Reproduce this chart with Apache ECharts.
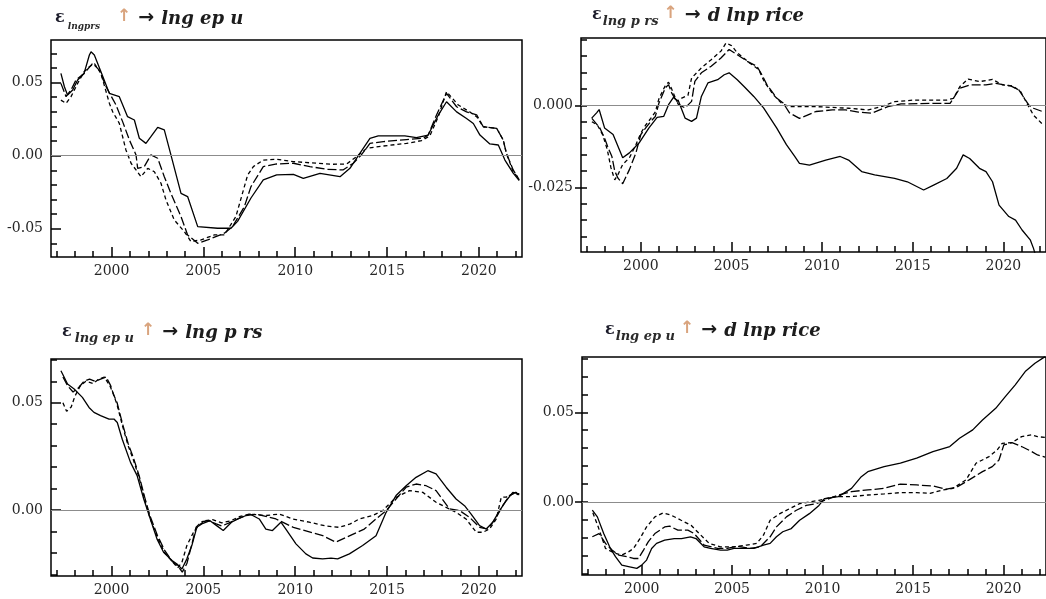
<!DOCTYPE html>
<html>
<head>
<meta charset="utf-8">
<script src="https://cdn.jsdelivr.net/npm/echarts@6/dist/echarts.min.js"></script>
<style>
html,body{margin:0;padding:0;background:#fff;}
#chart{width:1046px;height:599px;}
</style>
</head>
<body>
<div id="chart"></div>
<script>
// tick labels
var majorYears = [2000, 2005, 2010, 2015, 2020];
var minorYears = [1997, 1998, 1999, 2000, 2001, 2002, 2003, 2004, 2005, 2006, 2007, 2008, 2009, 2010, 2011, 2012, 2013, 2014, 2015, 2016, 2017, 2018, 2019, 2020, 2021, 2022];

// panel 1 : eps lngprs -> lngepu
var p1Solid = [[1997.24,0.0563],[1997.43,0.0472],[1997.6,0.0415],[1997.88,0.045],[1998.15,0.0518],[1998.5,0.0563],[1998.79,0.0689],[1998.88,0.0711],[1999.06,0.0689],[1999.42,0.0575],[1999.88,0.0426],[2000.42,0.0404],[2000.87,0.0267],[2001.24,0.0244],[2001.51,0.0119],[2001.87,0.0084],[2002.14,0.013],[2002.51,0.0194],[2002.87,0.0176],[2003.23,0.0005],[2003.78,-0.0258],[2004.14,-0.028],[2004.69,-0.0486],[2005.77,-0.0497],[2006.5,-0.0497],[2006.86,-0.045],[2007.59,-0.029],[2008.26,-0.0166],[2008.99,-0.0132],[2009.9,-0.0128],[2010.44,-0.0155],[2011.35,-0.0121],[2012.44,-0.0144],[2012.98,-0.0087],[2013.52,0.0016],[2014.07,0.0119],[2014.52,0.0135],[2015.97,0.0135],[2016.6,0.0123],[2017.24,0.0141],[2017.79,0.0278],[2018.24,0.0369],[2018.79,0.030],[2019.33,0.0255],[2019.7,0.022],[2020.06,0.0141],[2020.6,0.008],[2021.06,0.0073],[2021.42,-0.003],[2021.87,-0.012],[2022.2,-0.017]];
var p1Long = [[1997.24,0.0495],[1997.52,0.0404],[1997.79,0.045],[1998.06,0.0518],[1998.5,0.0563],[1998.97,0.0632],[1999.33,0.0586],[1999.7,0.0472],[2000.24,0.0347],[2000.6,0.0233],[2000.97,0.0107],[2001.33,0.0005],[2001.42,-0.0087],[2001.78,-0.0075],[2002.14,0.0005],[2002.51,-0.0018],[2002.87,-0.0144],[2003.23,-0.0258],[2003.78,-0.0417],[2004.14,-0.0543],[2004.69,-0.06],[2005.23,-0.0577],[2006.14,-0.0531],[2006.59,-0.0486],[2007.23,-0.0349],[2007.59,-0.0212],[2008.26,-0.0075],[2008.99,-0.0057],[2009.9,-0.0052],[2010.8,-0.0075],[2011.7,-0.0093],[2012.6,-0.0098],[2013.16,-0.0052],[2013.6,0.0005],[2014.07,0.0084],[2014.8,0.0096],[2016.06,0.011],[2016.97,0.0119],[2017.24,0.0141],[2017.7,0.028],[2018.24,0.0426],[2018.79,0.0335],[2019.33,0.030],[2019.88,0.028],[2020.24,0.0198],[2020.97,0.0187],[2021.33,0.0107],[2021.5,0.0016],[2021.87,-0.0098],[2022.2,-0.0165]];
var p1Short = [[1997.24,0.038],[1997.52,0.0358],[1997.79,0.0404],[1998.15,0.0495],[1998.5,0.0575],[1998.79,0.0609],[1999.06,0.0632],[1999.42,0.0563],[1999.88,0.0358],[2000.06,0.0301],[2000.42,0.0221],[2000.78,0.0039],[2001.06,-0.0052],[2001.6,-0.0144],[2001.97,-0.0087],[2002.33,-0.011],[2002.69,-0.0189],[2002.96,-0.0303],[2003.41,-0.044],[2003.96,-0.052],[2004.32,-0.0588],[2004.87,-0.0577],[2005.59,-0.0543],[2006.14,-0.0543],[2006.77,-0.0417],[2007.41,-0.0132],[2007.72,-0.0075],[2008.26,-0.003],[2008.99,-0.0025],[2009.9,-0.0041],[2011.16,-0.0052],[2012.07,-0.0059],[2012.8,-0.0057],[2013.34,-0.0007],[2013.89,0.005],[2014.8,0.0066],[2016.06,0.0084],[2016.88,0.0103],[2017.33,0.0135],[2017.79,0.0267],[2018.24,0.0438],[2018.88,0.0347],[2019.5,0.030],[2019.88,0.0267],[2020.24,0.0198],[2020.97,0.0187],[2021.33,0.0107],[2021.5,0.0016],[2021.87,-0.011],[2022.2,-0.016]];

// panel 2 : eps lngprs -> dlnprice
var p2Solid = [[1997.29,-0.0039],[1997.56,-0.0023],[1997.7,-0.0013],[1998.0,-0.0069],[1998.47,-0.0089],[1999.0,-0.016],[1999.37,-0.0145],[1999.9,-0.0115],[2000.45,-0.0069],[2000.9,-0.0037],[2001.26,-0.0034],[2001.53,0.0002],[2001.8,0.0024],[2002.08,0.0012],[2002.44,-0.0039],[2002.8,-0.0049],[2003.07,-0.0039],[2003.34,0.0027],[2003.7,0.0068],[2004.24,0.0078],[2004.6,0.0093],[2004.87,0.0099],[2005.32,0.0078],[2005.68,0.0058],[2006.23,0.0027],[2006.77,-0.0008],[2007.49,-0.0069],[2008.03,-0.012],[2008.48,-0.0155],[2008.75,-0.0177],[2009.3,-0.0182],[2010.2,-0.0167],[2011.0,-0.0156],[2011.46,-0.0167],[2012.18,-0.0202],[2012.9,-0.0212],[2014.0,-0.0223],[2014.7,-0.0233],[2015.6,-0.0258],[2016.15,-0.0243],[2016.88,-0.0223],[2017.42,-0.0192],[2017.78,-0.0151],[2018.14,-0.0162],[2018.68,-0.0192],[2019.04,-0.0202],[2019.4,-0.0233],[2019.76,-0.0304],[2020.3,-0.0339],[2020.67,-0.035],[2021.03,-0.038],[2021.48,-0.041],[2021.66,-0.0436],[2021.9,-0.048]];
var p2Long = [[1997.3,-0.004],[1997.74,-0.0069],[1998.0,-0.010],[1998.2,-0.013],[1998.4,-0.0155],[1998.56,-0.020],[1998.74,-0.0222],[1999.0,-0.0239],[1999.37,-0.0196],[1999.73,-0.0145],[2000.0,-0.0089],[2000.27,-0.0069],[2000.55,-0.0049],[2000.8,-0.0034],[2001.0,0.0007],[2001.35,0.0053],[2001.53,0.0063],[2001.7,0.0038],[2002.08,0.0002],[2002.44,-0.0008],[2002.8,0.0012],[2002.98,0.0073],[2003.34,0.0099],[2003.88,0.0119],[2004.42,0.0144],[2004.87,0.017],[2005.32,0.0154],[2005.87,0.0134],[2006.4,0.0119],[2006.68,0.0093],[2006.95,0.0063],[2007.49,0.0022],[2007.85,0.0007],[2008.2,-0.0023],[2008.75,-0.004],[2009.66,-0.0019],[2010.56,-0.0014],[2011.28,-0.0014],[2012.0,-0.0021],[2012.73,-0.0024],[2013.63,-0.0004],[2014.35,0.0004],[2015.97,0.0006],[2017.06,0.0006],[2017.6,0.0052],[2018.14,0.0062],[2019.04,0.0062],[2019.58,0.0067],[2020.4,0.0059],[2020.85,0.0047],[2021.1,0.0026],[2021.4,0.0001],[2021.66,-0.0009],[2022.2,-0.002]];
var p2Short = [[1997.3,-0.005],[1997.6,-0.006],[1997.9,-0.009],[1998.15,-0.0135],[1998.35,-0.019],[1998.56,-0.0227],[1998.75,-0.021],[1999.0,-0.018],[1999.37,-0.016],[1999.73,-0.012],[2000.0,-0.0085],[2000.27,-0.006],[2000.55,-0.004],[2000.8,-0.002],[2001.0,0.002],[2001.35,0.006],[2001.53,0.007],[2001.7,0.005],[2001.98,0.0012],[2002.26,0.0022],[2002.6,0.003],[2002.8,0.0083],[2003.34,0.0114],[2003.88,0.0139],[2004.42,0.0165],[2004.7,0.019],[2005.0,0.0182],[2005.32,0.016],[2006.0,0.0129],[2006.5,0.0109],[2006.8,0.0073],[2007.3,0.0033],[2007.8,0.0004],[2008.2,-0.0004],[2009.66,-0.0004],[2011.46,-0.0009],[2012.55,-0.0014],[2013.27,-0.0004],[2014.0,0.0011],[2015.07,0.0016],[2016.88,0.0016],[2017.24,0.0021],[2017.6,0.0057],[2018.05,0.008],[2018.68,0.0072],[2019.4,0.0079],[2019.95,0.0062],[2020.5,0.0059],[2020.95,0.0042],[2021.2,0.0016],[2021.66,-0.003],[2022.2,-0.006]];

// panel 3 : eps lngepu -> lngprs
var p3Solid = [[1997.24,0.0649],[1997.33,0.0634],[1997.6,0.0587],[1997.96,0.0564],[1998.41,0.0525],[1998.77,0.0478],[1999.04,0.0455],[1999.4,0.044],[1999.86,0.0424],[2000.13,0.0424],[2000.31,0.0408],[2000.58,0.033],[2001.03,0.0222],[2001.39,0.016],[2001.75,0.0051],[2002.11,-0.0042],[2002.47,-0.0135],[2002.83,-0.0197],[2003.29,-0.0236],[2003.56,-0.0252],[2003.83,-0.0275],[2004.1,-0.0228],[2004.37,-0.0166],[2004.64,-0.0081],[2004.91,-0.0065],[2005.36,-0.005],[2005.72,-0.0073],[2006.08,-0.0096],[2006.53,-0.0057],[2007.08,-0.0034],[2007.53,-0.0019],[2008.04,-0.0042],[2008.4,-0.0089],[2008.76,-0.0096],[2009.22,-0.0057],[2009.49,-0.0089],[2010.04,-0.0158],[2010.58,-0.0205],[2010.95,-0.0224],[2011.49,-0.0228],[2011.95,-0.0225],[2012.31,-0.0228],[2012.95,-0.0205],[2013.67,-0.0166],[2014.4,-0.012],[2014.95,-0.0011],[2015.49,0.0067],[2016.04,0.0113],[2016.58,0.0152],[2017.22,0.0183],[2017.67,0.0168],[2018.22,0.0106],[2018.76,0.0051],[2019.22,0.002],[2019.58,-0.0019],[2020.04,-0.0073],[2020.4,-0.0089],[2020.76,-0.0057],[2021.13,-0.0003],[2021.49,0.0043],[2021.85,0.0082],[2022.2,0.0075]];
var p3Long = [[1997.35,0.062],[1997.6,0.058],[1997.9,0.055],[1998.2,0.057],[1998.5,0.060],[1998.8,0.061],[1999.1,0.060],[1999.4,0.061],[1999.7,0.062],[1999.95,0.058],[2000.1,0.054],[2000.3,0.050],[2000.6,0.040],[2000.9,0.031],[2001.2,0.024],[2001.5,0.016],[2001.8,0.006],[2002.1,-0.003],[2002.5,-0.012],[2002.9,-0.019],[2003.3,-0.024],[2003.6,-0.026],[2003.85,-0.029],[2004.1,-0.025],[2004.4,-0.015],[2004.6,-0.008],[2004.9,-0.0055],[2005.3,-0.005],[2005.7,-0.0065],[2006.0,-0.0075],[2006.4,-0.006],[2006.9,-0.004],[2007.4,-0.0025],[2007.9,-0.002],[2008.22,-0.0026],[2008.95,-0.0042],[2009.9,-0.0081],[2011.5,-0.012],[2012.2,-0.015],[2013.76,-0.0089],[2014.4,-0.0042],[2014.95,-0.0003],[2015.49,0.0051],[2016.04,0.0106],[2016.58,0.0121],[2017.13,0.0113],[2017.67,0.009],[2018.4,0.0005],[2018.95,-0.0003],[2019.49,-0.0034],[2020.04,-0.0081],[2020.49,-0.0089],[2020.95,-0.0034],[2021.3,0.002],[2021.67,0.0067],[2022.0,0.0082],[2022.2,0.0078]];
var p3Short = [[1997.35,0.050],[1997.55,0.046],[1997.8,0.048],[1998.0,0.053],[1998.3,0.058],[1998.6,0.060],[1999.0,0.059],[1999.3,0.061],[1999.6,0.062],[1999.9,0.058],[2000.1,0.054],[2000.3,0.049],[2000.6,0.039],[2000.9,0.030],[2001.2,0.023],[2001.5,0.015],[2001.8,0.005],[2002.1,-0.004],[2002.5,-0.013],[2002.9,-0.020],[2003.3,-0.024],[2003.6,-0.027],[2003.83,-0.0244],[2004.1,-0.0166],[2004.46,-0.0104],[2004.73,-0.0073],[2005.1,-0.005],[2005.5,-0.0045],[2006.0,-0.006],[2006.5,-0.005],[2007.0,-0.003],[2007.5,-0.0019],[2008.4,-0.0026],[2009.13,-0.0019],[2009.86,-0.0042],[2010.76,-0.0057],[2011.67,-0.0075],[2012.4,-0.0081],[2013.0,-0.0065],[2013.49,-0.0042],[2014.22,-0.0026],[2014.76,-0.0003],[2015.49,0.0059],[2016.22,0.009],[2016.95,0.0082],[2017.67,0.0036],[2018.22,0.0012],[2018.76,-0.0011],[2019.3,-0.0042],[2019.86,-0.0104],[2020.22,-0.0104],[2020.58,-0.0089],[2020.95,-0.0042],[2021.22,0.0059],[2021.5,0.006],[2021.85,0.0075],[2022.2,0.0072]];

// panel 4 : eps lngepu -> dlnprice
var p4Solid = [[1997.27,-0.0046],[1997.55,-0.0083],[1997.9,-0.0176],[1998.27,-0.0259],[1998.55,-0.0305],[1998.9,-0.0352],[1999.27,-0.036],[1999.73,-0.037],[2000.0,-0.0352],[2000.27,-0.0324],[2000.55,-0.0259],[2000.82,-0.0231],[2001.27,-0.0213],[2001.8,-0.0204],[2002.2,-0.0204],[2002.7,-0.0194],[2003.0,-0.0204],[2003.45,-0.025],[2003.8,-0.0259],[2004.36,-0.0268],[2004.73,-0.0268],[2005.1,-0.0259],[2005.64,-0.0259],[2006.2,-0.0259],[2006.73,-0.024],[2007.1,-0.0231],[2007.45,-0.0194],[2007.8,-0.0166],[2008.27,-0.0148],[2008.73,-0.0102],[2009.27,-0.0065],[2009.8,-0.0019],[2010.1,0.0019],[2010.87,0.003],[2011.6,0.0076],[2012.14,0.0141],[2012.5,0.0169],[2013.4,0.0197],[2014.3,0.0216],[2015.2,0.0244],[2016.1,0.0281],[2017.03,0.0309],[2017.57,0.0355],[2018.3,0.0402],[2018.84,0.0457],[2019.57,0.0522],[2020.1,0.0587],[2020.65,0.0653],[2021.2,0.0727],[2021.74,0.0773],[2022.3,0.081]];
var p4Long = [[1997.27,-0.0194],[1997.64,-0.0176],[1998.0,-0.0231],[1998.36,-0.0268],[1998.73,-0.0296],[1999.18,-0.0305],[1999.55,-0.0315],[1999.82,-0.0315],[2000.1,-0.0268],[2000.36,-0.0222],[2000.73,-0.0176],[2001.27,-0.0139],[2001.55,-0.0135],[2002.0,-0.0157],[2002.55,-0.0157],[2002.9,-0.0176],[2003.45,-0.024],[2004.2,-0.0259],[2004.73,-0.0259],[2005.27,-0.0246],[2006.0,-0.0259],[2006.55,-0.025],[2007.1,-0.0194],[2007.45,-0.0139],[2008.0,-0.0083],[2008.55,-0.0046],[2009.1,-0.0019],[2009.64,-0.0009],[2010.1,0.0009],[2010.87,0.0039],[2011.6,0.0058],[2012.5,0.0067],[2013.4,0.0076],[2014.3,0.01],[2015.2,0.0095],[2016.1,0.0089],[2016.85,0.0071],[2017.4,0.0082],[2018.1,0.0123],[2018.84,0.0169],[2019.38,0.0197],[2019.75,0.0234],[2020.02,0.0318],[2020.47,0.0331],[2021.0,0.0309],[2021.56,0.0281],[2021.88,0.0262],[2022.3,0.025]];
var p4Short = [[1997.3,-0.006],[1997.6,-0.014],[1998.0,-0.0259],[1998.55,-0.0287],[1998.9,-0.0296],[1999.27,-0.0278],[1999.55,-0.0259],[1999.9,-0.0204],[2000.27,-0.0139],[2000.73,-0.0083],[2001.18,-0.0061],[2001.64,-0.0074],[2002.18,-0.0102],[2002.73,-0.013],[2003.18,-0.0176],[2003.73,-0.0231],[2004.36,-0.025],[2005.1,-0.025],[2005.8,-0.024],[2006.36,-0.0231],[2006.73,-0.0185],[2007.1,-0.0102],[2007.64,-0.0065],[2008.18,-0.0037],[2008.73,-0.0009],[2009.27,0.0],[2009.8,0.0009],[2010.69,0.003],[2011.6,0.003],[2012.5,0.0039],[2013.4,0.0045],[2014.3,0.0052],[2015.2,0.0052],[2015.94,0.0048],[2016.67,0.0067],[2017.2,0.0076],[2017.93,0.0123],[2018.48,0.0216],[2019.2,0.0253],[2019.65,0.029],[2019.93,0.0327],[2020.47,0.0331],[2021.0,0.0364],[2021.56,0.0374],[2021.88,0.0364],[2022.3,0.036]];

// y tick values
var p1YLabels = [-0.05, 0, 0.05];
var p1YTicks = [-0.06, -0.05, -0.04, -0.03, -0.02, -0.01, 0, 0.01, 0.02, 0.03, 0.04, 0.05, 0.06, 0.07];
var p2YLabels = [-0.025, 0];
var p2YTicks = [-0.04, -0.035, -0.03, -0.025, -0.02, -0.015, -0.01, -0.005, 0, 0.005, 0.01, 0.015, 0.02];
var p3YLabels = [0, 0.05];
var p3YTicks = [-0.03, -0.02, -0.01, 0, 0.01, 0.02, 0.03, 0.04, 0.05, 0.06, 0.07];
var p4YLabels = [0, 0.05];
var p4YTicks = [-0.04, -0.03, -0.02, -0.01, 0, 0.01, 0.02, 0.03, 0.04, 0.05, 0.06, 0.07, 0.08];

var panels = [
	{grid: {left: 51, top: 40, width: 471, height: 217}, yMin: -0.0694, yMax: 0.0792, labels: p1YLabels, ticks: p1YTicks, digits: 2, lines: [p1Solid, p1Long, p1Short]},
	{grid: {left: 581, top: 38, width: 471, height: 214}, yMin: -0.0447, yMax: 0.0205, labels: p2YLabels, ticks: p2YTicks, digits: 3, lines: [p2Solid, p2Long, p2Short]},
	{grid: {left: 51, top: 359, width: 471, height: 217}, yMin: -0.0308, yMax: 0.0704, labels: p3YLabels, ticks: p3YTicks, digits: 2, lines: [p3Solid, p3Long, p3Short]},
	{grid: {left: 582, top: 357, width: 471, height: 218}, yMin: -0.0407, yMax: 0.0808, labels: p4YLabels, ticks: p4YTicks, digits: 2, lines: [p4Solid, p4Long, p4Short]}
];

var lineTypes = ['solid', [9, 3], [4, 3]];
var txt = '#262626';
var serif = 'DejaVu Serif';
var tickStyle = {color: '#000', width: 1.5};

// title pieces: eps, subscript, up arrow, right arrow, target
function richStyle(subSize, subPad) {
	return {
		e: {fontFamily: serif, fontSize: 16, color: '#1c1c2a', lineHeight: 20, verticalAlign: 'top'},
		s: {fontFamily: serif, fontStyle: 'italic', fontWeight: 'bold', fontSize: subSize, color: '#2a2a2a', lineHeight: subSize + 2, verticalAlign: 'top', padding: subPad},
		u: {fontFamily: 'DejaVu Sans', fontSize: 17, color: '#d9a47e', lineHeight: 20, verticalAlign: 'top', padding: [-2, 7, 0, 0]},
		a: {fontFamily: 'DejaVu Sans', fontSize: 19, color: '#1c1c1c', lineHeight: 20, verticalAlign: 'top', padding: [-1, 7, 0, 0]},
		m: {fontFamily: serif, fontStyle: 'italic', fontWeight: 'bold', fontSize: 18, color: '#1c1c1c', lineHeight: 20, verticalAlign: 'top'}
	};
}

var titles = [
	{text: '{e|ε}{s|lngprs}{u|↑}{a|→}{m|lng ep u}', left: 55, top: 10, padding: 0, textStyle: {rich: richStyle(9, [12, 17, 0, 3])}},
	{text: '{e|ε}{s|lng p rs}{u|↑}{a|→}{m|d lnp rice}', left: 592, top: 7, padding: 0, textStyle: {rich: richStyle(13, [8, 5, 0, 1])}},
	{text: '{e|ε}{s|lng ep u}{u|↑}{a|→}{m|lng p rs}', left: 62, top: 324, padding: 0, textStyle: {rich: richStyle(13, [8, 7, 0, 3])}},
	{text: '{e|ε}{s|lng ep u}{u|↑}{a|→}{m|d lnp rice}', left: 605, top: 322, padding: 0, textStyle: {rich: richStyle(13, [8, 5, 0, 1])}}
];

var grids = [], xAxes = [], yAxes = [], series = [];
panels.forEach(function (p, i) {
	grids.push(Object.assign({show: true, borderColor: '#000', borderWidth: 1.5}, p.grid));
	var d = p.digits;
	// one axis per side : yearly ticks on x, minor value ticks on y
	xAxes.push({
		type: 'value', gridIndex: i, min: 1996.7, max: 2022.35,
		axisLine: {show: false, onZero: false}, splitLine: {show: false},
		axisTick: {show: true, inside: true, length: 6, customValues: minorYears, lineStyle: tickStyle},
		axisLabel: {customValues: majorYears, margin: 7, fontFamily: serif, fontSize: 14, color: txt, formatter: function (v) { return String(Math.round(v)); }}
	});
	yAxes.push({
		type: 'value', gridIndex: i, min: p.yMin, max: p.yMax,
		axisLine: {show: false, onZero: false}, splitLine: {show: false},
		axisTick: {show: true, inside: true, length: 6, customValues: p.ticks, lineStyle: tickStyle},
		axisLabel: {customValues: p.labels, margin: 8, fontFamily: serif, fontSize: 14, color: txt, formatter: function (v) { return v.toFixed(d); }}
	});
	p.lines.forEach(function (data, k) {
		var s = {
			type: 'line', xAxisIndex: i, yAxisIndex: i, data: data,
			symbol: 'none', clip: true, animation: false, silent: true,
			lineStyle: {color: '#000', width: 1.3, type: lineTypes[k]}
		};
		if (k === 0) {
			// zero line
			s.markLine = {silent: true, symbol: 'none', label: {show: false}, lineStyle: {color: '#8c8c8c', width: 1, type: 'solid'}, data: [{yAxis: 0}]};
		}
		series.push(s);
	});
});

// longer ticks at labelled values : extra axes on the opposite side, shifted onto the frame
panels.forEach(function (p, i) {
	xAxes.push({
		type: 'value', gridIndex: i, min: 1996.7, max: 2022.35, position: 'top', offset: -p.grid.height,
		axisLine: {show: false, onZero: false}, splitLine: {show: false}, axisLabel: {show: false},
		axisTick: {show: true, inside: false, length: 10, customValues: majorYears, lineStyle: tickStyle}
	});
	yAxes.push({
		type: 'value', gridIndex: i, min: p.yMin, max: p.yMax, position: 'right', offset: -p.grid.width,
		axisLine: {show: false, onZero: false}, splitLine: {show: false}, axisLabel: {show: false},
		axisTick: {show: true, inside: false, length: 10, customValues: p.labels, lineStyle: tickStyle}
	});
});

var myChart = echarts.init(document.getElementById('chart'));
myChart.setOption({
	backgroundColor: '#fff',
	animation: false,
	title: titles,
	grid: grids,
	xAxis: xAxes,
	yAxis: yAxes,
	series: series
});
</script>
</body>
</html>
